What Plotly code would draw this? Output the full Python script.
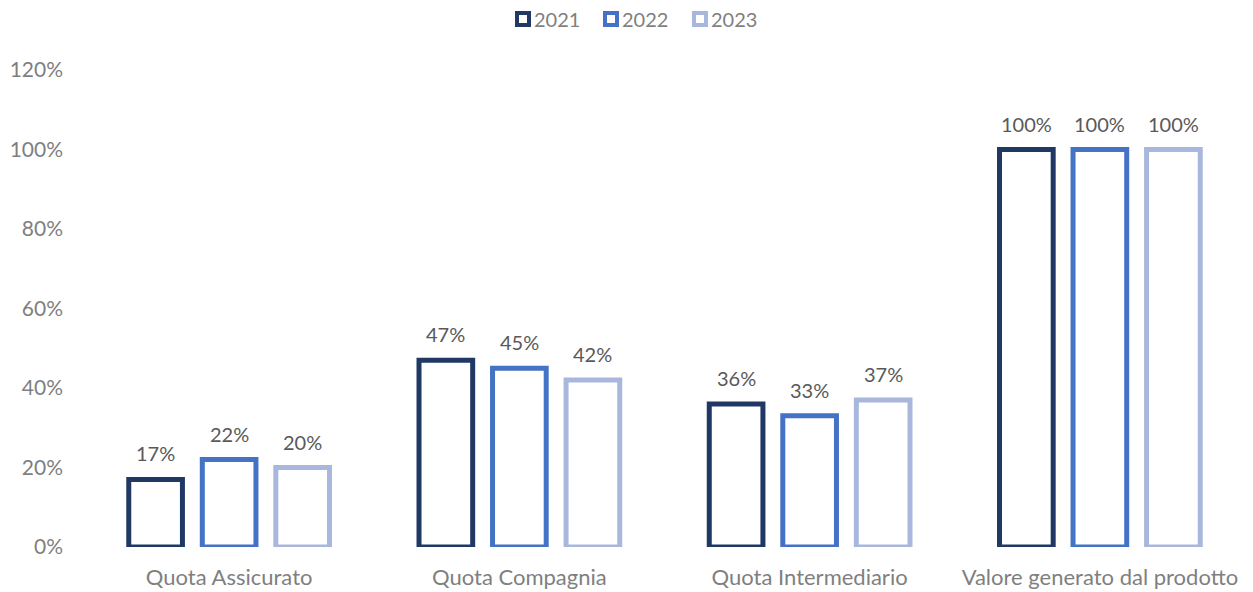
import plotly.graph_objects as go

categories = ["Quota Assicurato", "Quota Compagnia", "Quota Intermediario", "Valore generato dal prodotto"]
years = ["2021", "2022", "2023"]
values_2021 = [17, 47, 36, 100]
values_2022 = [22, 45, 33, 100]
values_2023 = [20, 42, 37, 100]
y_ticks = [0, 20, 40, 60, 80, 100, 120]

colors = ["#203864", "#4472C4", "#A9B7DD"]
series = [values_2021, values_2022, values_2023]

W, H = 1253, 592
M_L, M_R, M_T, M_B = 84, 8, 70, 45
BARGAP, BARGROUPGAP = 0.24, 0.27
FONT = "Lato, Open Sans, sans-serif"

plot_w = W - M_L - M_R
plot_h = H - M_T - M_B
slot = plot_w / len(categories) * (1 - BARGAP) / len(years)

fig = go.Figure()
for name, vals, col in zip(years, series, colors):
    fig.add_trace(go.Bar(
        name=name,
        x=categories,
        y=vals,
        marker=dict(color="white", line=dict(color=col, width=5)),
        showlegend=False,
        hoverinfo="x+y",
    ))

# value labels above each bar
annotations = []
for i, vals in enumerate(series):
    for cat, v in zip(categories, vals):
        annotations.append(dict(
            x=cat, y=v, xref="x", yref="y",
            text=f"{v}%", showarrow=False,
            xanchor="center", yanchor="bottom",
            xshift=(i - 1) * slot, yshift=12,
            font=dict(family=FONT, size=20, color="#595959"),
        ))

# legend drawn as outlined squares with labels, centred over the chart
shapes = []
legend_y_px = 19
legend_x_px = [523, 611, 700]
box = 6
for name, col, cx in zip(years, colors, legend_x_px):
    x0 = (cx - box - M_L) / plot_w
    x1 = (cx + box - M_L) / plot_w
    y0 = (H - M_B - (legend_y_px + box)) / plot_h
    y1 = (H - M_B - (legend_y_px - box)) / plot_h
    shapes.append(dict(type="rect", xref="paper", yref="paper",
                       x0=x0, x1=x1, y0=y0, y1=y1,
                       line=dict(color=col, width=4), fillcolor="white"))
    annotations.append(dict(
        x=(cx + box + 3 - M_L) / plot_w, y=(H - M_B - legend_y_px) / plot_h,
        xref="paper", yref="paper", text=name, showarrow=False,
        xanchor="left", yanchor="middle",
        font=dict(family=FONT, size=20, color="#7F7F7F"),
    ))

fig.update_layout(
    width=W, height=H,
    margin=dict(l=M_L, r=M_R, t=M_T, b=M_B, autoexpand=False),
    paper_bgcolor="white", plot_bgcolor="white",
    font=dict(family=FONT, size=21, color="#7F7F7F"),
    barmode="group",
    bargap=BARGAP,
    bargroupgap=BARGROUPGAP,
    showlegend=False,
    annotations=annotations,
    shapes=shapes,
    xaxis=dict(showgrid=False, showline=False, ticks="", automargin=False,
               tickfont=dict(family=FONT, size=22, color="#7F7F7F"),
               ticklabelstandoff=15),
    yaxis=dict(range=[0, 120], tickvals=y_ticks, ticktext=[f"{t}%" for t in y_ticks],
               showgrid=False, zeroline=False, showline=False, ticks="", automargin=False,
               tickfont=dict(family=FONT, size=21, color="#7F7F7F"), ticklabelstandoff=20),
)

fig.write_html("out.html")
